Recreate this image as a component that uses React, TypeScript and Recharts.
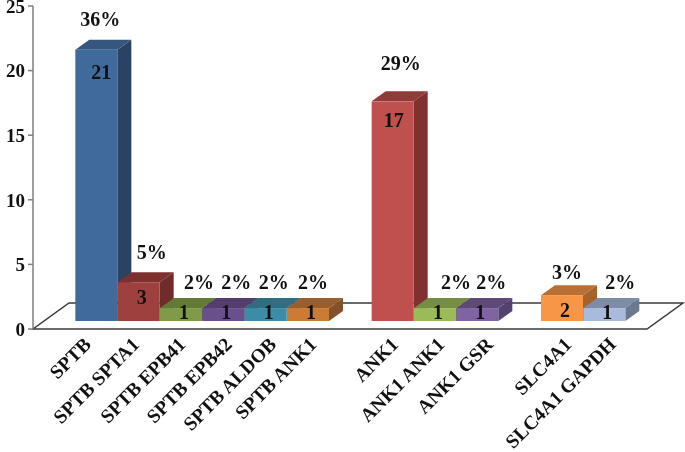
import { BarChart, Bar, XAxis, YAxis, usePlotArea } from 'recharts';

const categories = [
  ' ', 'SPTB', 'SPTB SPTA1', 'SPTB EPB41', 'SPTB EPB42', 'SPTB ALDOB', 'SPTB ANK1',
  '  ', 'ANK1', 'ANK1 ANK1', 'ANK1 GSR',
  '   ', 'SLC4A1', 'SLC4A1 GAPDH', '    ',
];
const counts = [null, 21, 3, 1, 1, 1, 1, null, 17, 1, 1, null, 2, 1, null];
const percents = ['', '36%', '5%', '2%', '2%', '2%', '2%', '', '29%', '2%', '2%', '', '3%', '2%', ''];
const yTicks = [0, 5, 10, 15, 20, 25];

const frontColors = ['', '#40699C', '#9E413E', '#7F9A48', '#69508C', '#3C8CA8', '#CB7B33', '', '#C0504D', '#9BBB59', '#8064A2', '', '#F79646', '#A9BBDD', ''];
const topColors = ['', '#35567F', '#7E302F', '#637A37', '#533E6F', '#2F6E80', '#9A5E2C', '', '#8F3B39', '#758E43', '#5D4A79', '', '#B96F33', '#7F8CA6', ''];
const sideColors = ['', '#2B4263', '#6F2C2A', '#5C7033', '#4A3763', '#2A6072', '#85512A', '', '#7F302F', '#667C3A', '#534270', '', '#A5622C', '#6A7890', ''];

// hand placed in the original, so nudged per bar
const pctNudgeX = [0, 4, 13, 18, 13, 8, 5, 0, 8, 21, 14, 0, 5, 16, 0];
const pctNudgeY = [0, -31, -30, -26, -26, -26, -26, 0, -38, -26, -26, 0, -23, -26, 0];
const tickNudgeX = [0, -9, -3, 1, 5, 7, 5, 0, 2, 6, 12, 0, 6, 8, 0];

const data = categories.map((name, i) => ({ name, count: counts[i] }));

const FONT = '"Liberation Serif", serif';
const DEPTH_X = 14;
const DEPTH_Y = 10;
const FLOOR_LIFT = 8; // bars stand on the floor, above the axis zero line

function Floor() {
  const plot = usePlotArea();
  if (!plot) return null;
  const left = plot.x;
  const bottom = plot.y + plot.height;
  const right = left + 614;
  const pts = `${left},${bottom} ${right},${bottom} ${right + 36},${bottom - 26} ${left + 36},${bottom - 26}`;
  return <polygon points={pts} fill="#fff" stroke="#3a3a3a" strokeWidth={1.5} />;
}

function AngledTick({ x, y, payload }: any) {
  const index = categories.indexOf(payload.value);
  if (!counts[index]) return null;
  const tx = x + tickNudgeX[index];
  const ty = y + 4;
  return (
    <text
      x={tx}
      y={ty}
      transform={`rotate(-45, ${tx}, ${ty})`}
      textAnchor="end"
      dominantBaseline="central"
      fontFamily={FONT}
      fontWeight="bold"
      fontSize={19.5}
      fill="#111"
    >
      {payload.value}
    </text>
  );
}

function Bar3D(props: any) {
  const { x, y, width, height, payload } = props;
  // index skips the empty slots, so look the bar up by name
  const index = categories.indexOf(payload.name);
  const value = counts[index];
  if (!value) return null;
  const top = y - FLOOR_LIFT;
  const right = x + width;
  const bottom = top + height;
  const labelDy = value === 1 ? 4 : value <= 3 ? 15 : value > 20 ? 22 : 19;
  return (
    <g>
      <polygon
        points={`${right},${top} ${right + DEPTH_X},${top - DEPTH_Y} ${right + DEPTH_X},${bottom - DEPTH_Y} ${right},${bottom}`}
        fill={sideColors[index]}
      />
      <polygon
        points={`${x},${top} ${x + DEPTH_X},${top - DEPTH_Y} ${right + DEPTH_X},${top - DEPTH_Y} ${right},${top}`}
        fill={topColors[index]}
      />
      <rect x={x} y={top} width={width} height={height} fill={frontColors[index]} />
      <text
        x={x + width / 2 + (value > 20 ? 5 : value === 17 ? 1 : 3)}
        y={top + labelDy}
        textAnchor="middle"
        dominantBaseline="central"
        fontFamily={FONT}
        fontWeight="bold"
        fontSize={20}
        fill="#111"
      >
        {value}
      </text>
      <text
        x={x + width / 2 + pctNudgeX[index]}
        y={top + pctNudgeY[index]}
        textAnchor="middle"
        dominantBaseline="central"
        fontFamily={FONT}
        fontWeight="bold"
        fontSize={20}
        fill="#111"
      >
        {percents[index]}
      </text>
    </g>
  );
}

export default function App() {
  return (
    <div style={{ position: 'absolute', left: 0, top: 0, background: '#fff', filter: 'blur(0.5px)' }}>
      <BarChart
        width={685}
        height={452}
        data={data}
        barCategoryGap={0}
        margin={{ top: 6, right: 17, bottom: 0, left: 0 }}
      >
        <Floor />
        <XAxis
          dataKey="name"
          height={123}
          interval={0}
          axisLine={false}
          tickLine={false}
          tick={AngledTick}
        />
        <YAxis
          width={33}
          domain={[0, 25]}
          ticks={yTicks}
          interval={0}
          tickSize={5}
          tickMargin={3}
          stroke="#7f7f7f"
          strokeWidth={1.5}
          tick={{ fontFamily: FONT, fontWeight: 'bold', fontSize: 19, fill: '#111' }}
        />
        <Bar dataKey="count" shape={Bar3D} isAnimationActive={false} />
      </BarChart>
    </div>
  );
}
